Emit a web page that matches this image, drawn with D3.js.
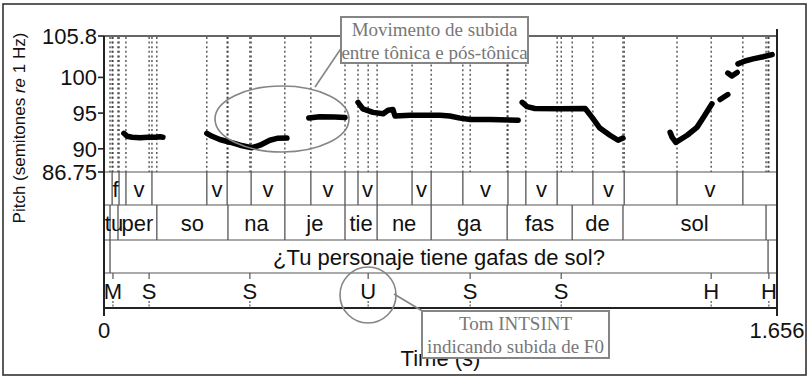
<!DOCTYPE html>
<html><head><meta charset="utf-8">
<script src="https://cdn.jsdelivr.net/npm/d3@7/dist/d3.min.js"></script>
<style>body{margin:0;background:#fff}svg{display:block}</style>
</head><body>
<svg id="c" width="809" height="378"></svg>
<script>
// ---------- data ----------
const xTicks = [0, 1.656];
const yTicks = [86.75, 90, 95, 100, 105.8];
const yTickLabels = ["86.75", "90", "95", "100", "105.8"];

const voicingBounds = [0, 0.020, 0.037, 0.054, 0.118, 0.253, 0.303, 0.362, 0.445, 0.509, 0.593, 0.625, 0.672, 0.758, 0.805, 0.883, 0.994, 1.038, 1.115, 1.203, 1.280, 1.410, 1.572, 1.656];
const voicingLabels = ["", "f", "", "v", "", "v", "", "v", "", "v", "", "v", "", "v", "", "v", "", "v", "", "v", "", "v", ""];

const syllableBounds = [0, 0.0148, 0.0344, 0.130, 0.305, 0.445, 0.593, 0.672, 0.805, 0.992, 1.152, 1.277, 1.629, 1.656];
const syllableLabels = ["", "tu", "per", "so", "na", "je", "tie", "ne", "ga", "fas", "de", "sol", ""];

const sentenceBounds = [0, 0.0148, 1.634, 1.656];
const sentenceLabels = ["", "¿Tu personaje tiene gafas de sol?", ""];

const intsintTimes = [0.022, 0.111, 0.359, 0.650, 0.901, 1.125, 1.494, 1.636];
const intsintLabels = ["M", "S", "S", "U", "S", "S", "H", "H"];

// pitch contour pieces: [time (s), semitones re 1 Hz]
const pitchSeg1 = [[0.049, 92.17], [0.057, 91.75], [0.069, 91.61], [0.089, 91.54], [0.108, 91.61], [0.125, 91.61], [0.138, 91.68], [0.145, 91.61]];
const pitchSeg2 = [[0.253, 92.17], [0.266, 91.75], [0.285, 91.3], [0.310, 90.92], [0.335, 90.5], [0.364, 90.15], [0.384, 90.5], [0.408, 91.2], [0.426, 91.47], [0.450, 91.5]];
const pitchSeg3 = [[0.504, 94.3], [0.531, 94.5], [0.568, 94.45], [0.593, 94.4]];
const pitchSeg4 = [[0.625, 96.5], [0.637, 95.6], [0.662, 95.1], [0.687, 94.9], [0.699, 95.4], [0.711, 95.5], [0.716, 94.6], [0.753, 94.7], [0.827, 94.7], [0.851, 94.6], [0.876, 94.3], [0.901, 94.1], [0.950, 94.1], [1.019, 94.0]];
const pitchSeg5 = [[1.029, 96.5], [1.041, 95.9], [1.060, 95.65], [1.122, 95.6], [1.184, 95.65], [1.201, 94.4], [1.220, 92.9], [1.245, 91.9], [1.265, 91.2], [1.277, 91.5]];
const pitchSeg6 = [[1.393, 92.3], [1.398, 91.6], [1.407, 90.9], [1.435, 91.9], [1.459, 93.0], [1.474, 94.3], [1.496, 96.3]];
const pitchSeg7 = [[1.516, 96.9], [1.535, 97.6]];
const pitchSeg8 = [[1.535, 100.6], [1.545, 100.2], [1.558, 100.7]];
const pitchSeg9 = [[1.560, 101.9], [1.577, 102.3], [1.597, 102.6], [1.622, 102.9], [1.644, 103.2]];

// ---------- drawing ----------
const svg = d3.select("#c");
const x = d3.scaleLinear().domain([0, 1.656]).range([104, 777]);
const y = d3.scaleLinear().domain([86.75, 105.8]).range([172, 36]);
const tiers = [
  {b: voicingBounds, l: voicingLabels, y0: 172, y1: 205},
  {b: syllableBounds, l: syllableLabels, y0: 205, y1: 240},
  {b: sentenceBounds, l: sentenceLabels, y0: 240, y1: 273}
];
const pointTier = {y0: 273, y1: 308};
const font = "'Liberation Sans', Arial, sans-serif";

// outer frame
svg.append("rect").attr("x", 3).attr("y", 4).attr("width", 803).attr("height", 371)
  .attr("fill", "none").attr("stroke", "#333").attr("stroke-width", 1.6);

// dotted guide lines in pitch area (all boundaries and points)
const guide = new Set();
tiers.forEach(t => t.b.slice(1, -1).forEach(v => guide.add(v)));
intsintTimes.forEach(v => guide.add(v));
svg.append("g").selectAll("line").data([...guide]).join("line")
  .attr("x1", d => x(d)).attr("x2", d => x(d)).attr("y1", 37).attr("y2", 172)
  .attr("stroke", "#333").attr("stroke-width", 1.2).attr("stroke-dasharray", "2,2.6");

// pitch contour
const line = d3.line().x(d => x(d[0])).y(d => y(d[1])).curve(d3.curveLinear);
svg.append("g").selectAll("path")
  .data([pitchSeg1, pitchSeg2, pitchSeg3, pitchSeg4, pitchSeg5, pitchSeg6, pitchSeg7, pitchSeg8, pitchSeg9])
  .join("path").attr("d", line).attr("fill", "none").attr("stroke", "#000")
  .attr("stroke-width", 5.5).attr("stroke-linecap", "round").attr("stroke-linejoin", "round");

// tier separators
svg.append("g").selectAll("line").data([172, 205, 240, 273]).join("line")
  .attr("x1", 104).attr("x2", 777).attr("y1", d => d).attr("y2", d => d)
  .attr("stroke", "#555").attr("stroke-width", 1.2);

// interval tiers
tiers.forEach(t => {
  const g = svg.append("g");
  g.selectAll("line").data(t.b.slice(1, -1)).join("line")
    .attr("x1", d => x(d)).attr("x2", d => x(d)).attr("y1", t.y0).attr("y2", t.y1)
    .attr("stroke", "#555").attr("stroke-width", 1.3);
  const iv = t.l.map((lab, i) => ({lab, a: t.b[i], b: t.b[i + 1]})).filter(d => d.lab);
  g.selectAll("text").data(iv).join("text")
    .attr("x", d => x((d.a + d.b) / 2)).attr("y", (t.y0 + t.y1) / 2 + 8)
    .attr("text-anchor", "middle").attr("font-family", font).attr("font-size", 22)
    .attr("fill", "#111").text(d => d.lab);
});

// point tier (INTSINT)
const pt = svg.append("g");
const pts = intsintTimes.map((t, i) => ({t, lab: intsintLabels[i]}));
pt.selectAll("line.top").data(pts).join("line").attr("class", "top")
  .attr("x1", d => x(d.t)).attr("x2", d => x(d.t)).attr("y1", pointTier.y0).attr("y2", pointTier.y0 + 6)
  .attr("stroke", "#555").attr("stroke-width", 1.2);
pt.selectAll("line.bot").data(pts).join("line").attr("class", "bot")
  .attr("x1", d => x(d.t)).attr("x2", d => x(d.t)).attr("y1", pointTier.y1 - 7).attr("y2", pointTier.y1)
  .attr("stroke", "#555").attr("stroke-width", 1.2).attr("stroke-dasharray", "2,1.5");
pt.selectAll("text").data(pts).join("text")
  .attr("x", d => x(d.t)).attr("y", (pointTier.y0 + pointTier.y1) / 2 + 8)
  .attr("text-anchor", "middle").attr("font-family", font).attr("font-size", 22)
  .attr("fill", "#111").text(d => d.lab);

// frame of plot + tiers
svg.append("line").attr("x1", 104).attr("x2", 777).attr("y1", 36).attr("y2", 36).attr("stroke", "#333").attr("stroke-width", 1.4);
svg.append("line").attr("x1", 104).attr("x2", 777).attr("y1", 308).attr("y2", 308).attr("stroke", "#222").attr("stroke-width", 2);
svg.append("line").attr("x1", 104).attr("x2", 104).attr("y1", 36).attr("y2", 308).attr("stroke", "#222").attr("stroke-width", 2);
svg.append("line").attr("x1", 777).attr("x2", 777).attr("y1", 29).attr("y2", 308).attr("stroke", "#222").attr("stroke-width", 2);

// y axis
const yAx = svg.append("g");
yAx.selectAll("line").data(yTicks).join("line")
  .attr("x1", 98).attr("x2", 104).attr("y1", d => y(d)).attr("y2", d => y(d))
  .attr("stroke", "#222").attr("stroke-width", 1.6);
yAx.selectAll("text").data(yTicks).join("text")
  .attr("x", 97).attr("y", d => y(d) + 8).attr("text-anchor", "end")
  .attr("font-family", font).attr("font-size", 22).attr("fill", "#111")
  .text((d, i) => yTickLabels[i]);
const yl = svg.append("text").attr("transform", "translate(25,128) rotate(-90)")
  .attr("text-anchor", "middle").attr("font-family", font).attr("font-size", 17).attr("fill", "#111");
yl.append("tspan").text("Pitch (semitones ");
yl.append("tspan").attr("font-style", "italic").text("re");
yl.append("tspan").text(" 1 Hz)");

// x axis
const xAx = svg.append("g");
xAx.selectAll("line").data(xTicks).join("line")
  .attr("x1", d => x(d)).attr("x2", d => x(d)).attr("y1", 308).attr("y2", 316)
  .attr("stroke", "#222").attr("stroke-width", 2);
xAx.selectAll("text").data(xTicks).join("text")
  .attr("x", d => x(d)).attr("y", 338).attr("text-anchor", "middle")
  .attr("font-family", font).attr("font-size", 22).attr("fill", "#111")
  .text(d => d === 0 ? "0" : d3.format(".3f")(d));
svg.append("text").attr("x", x(0.828)).attr("y", 366).attr("text-anchor", "middle")
  .attr("font-family", font).attr("font-size", 22).attr("fill", "#111").text("Time (s)");

// annotations
const gray = "#858585";
svg.append("ellipse").attr("cx", 282).attr("cy", 119).attr("rx", 67).attr("ry", 33)
  .attr("fill", "none").attr("stroke", gray).attr("stroke-width", 1.6);
svg.append("circle").attr("cx", 368).attr("cy", 295).attr("r", 28)
  .attr("fill", "none").attr("stroke", gray).attr("stroke-width", 1.6);
svg.append("line").attr("x1", 342).attr("y1", 47).attr("x2", 315).attr("y2", 87)
  .attr("stroke", gray).attr("stroke-width", 1.6);
svg.append("line").attr("x1", 394).attr("y1", 294).attr("x2", 424).attr("y2", 312)
  .attr("stroke", gray).attr("stroke-width", 1.6);

const serif = "'Liberation Serif', 'Times New Roman', serif";
function box(x0, y0, w, h, lines) {
  svg.append("rect").attr("x", x0).attr("y", y0).attr("width", w).attr("height", h)
    .attr("fill", "#fff").attr("stroke", gray).attr("stroke-width", 2);
  lines.forEach((s, i) => svg.append("text").attr("x", x0 + w / 2).attr("y", y0 + 19 + i * 23)
    .attr("text-anchor", "middle").attr("font-family", serif).attr("font-size", 19)
    .attr("fill", "#777").text(s));
}
box(341, 17, 187, 46, ["Movimento de subida", "entre tônica e pós-tônica"]);
box(422, 311, 187, 47, ["Tom INTSINT", "indicando subida de F0"]);
</script>
</body></html>
